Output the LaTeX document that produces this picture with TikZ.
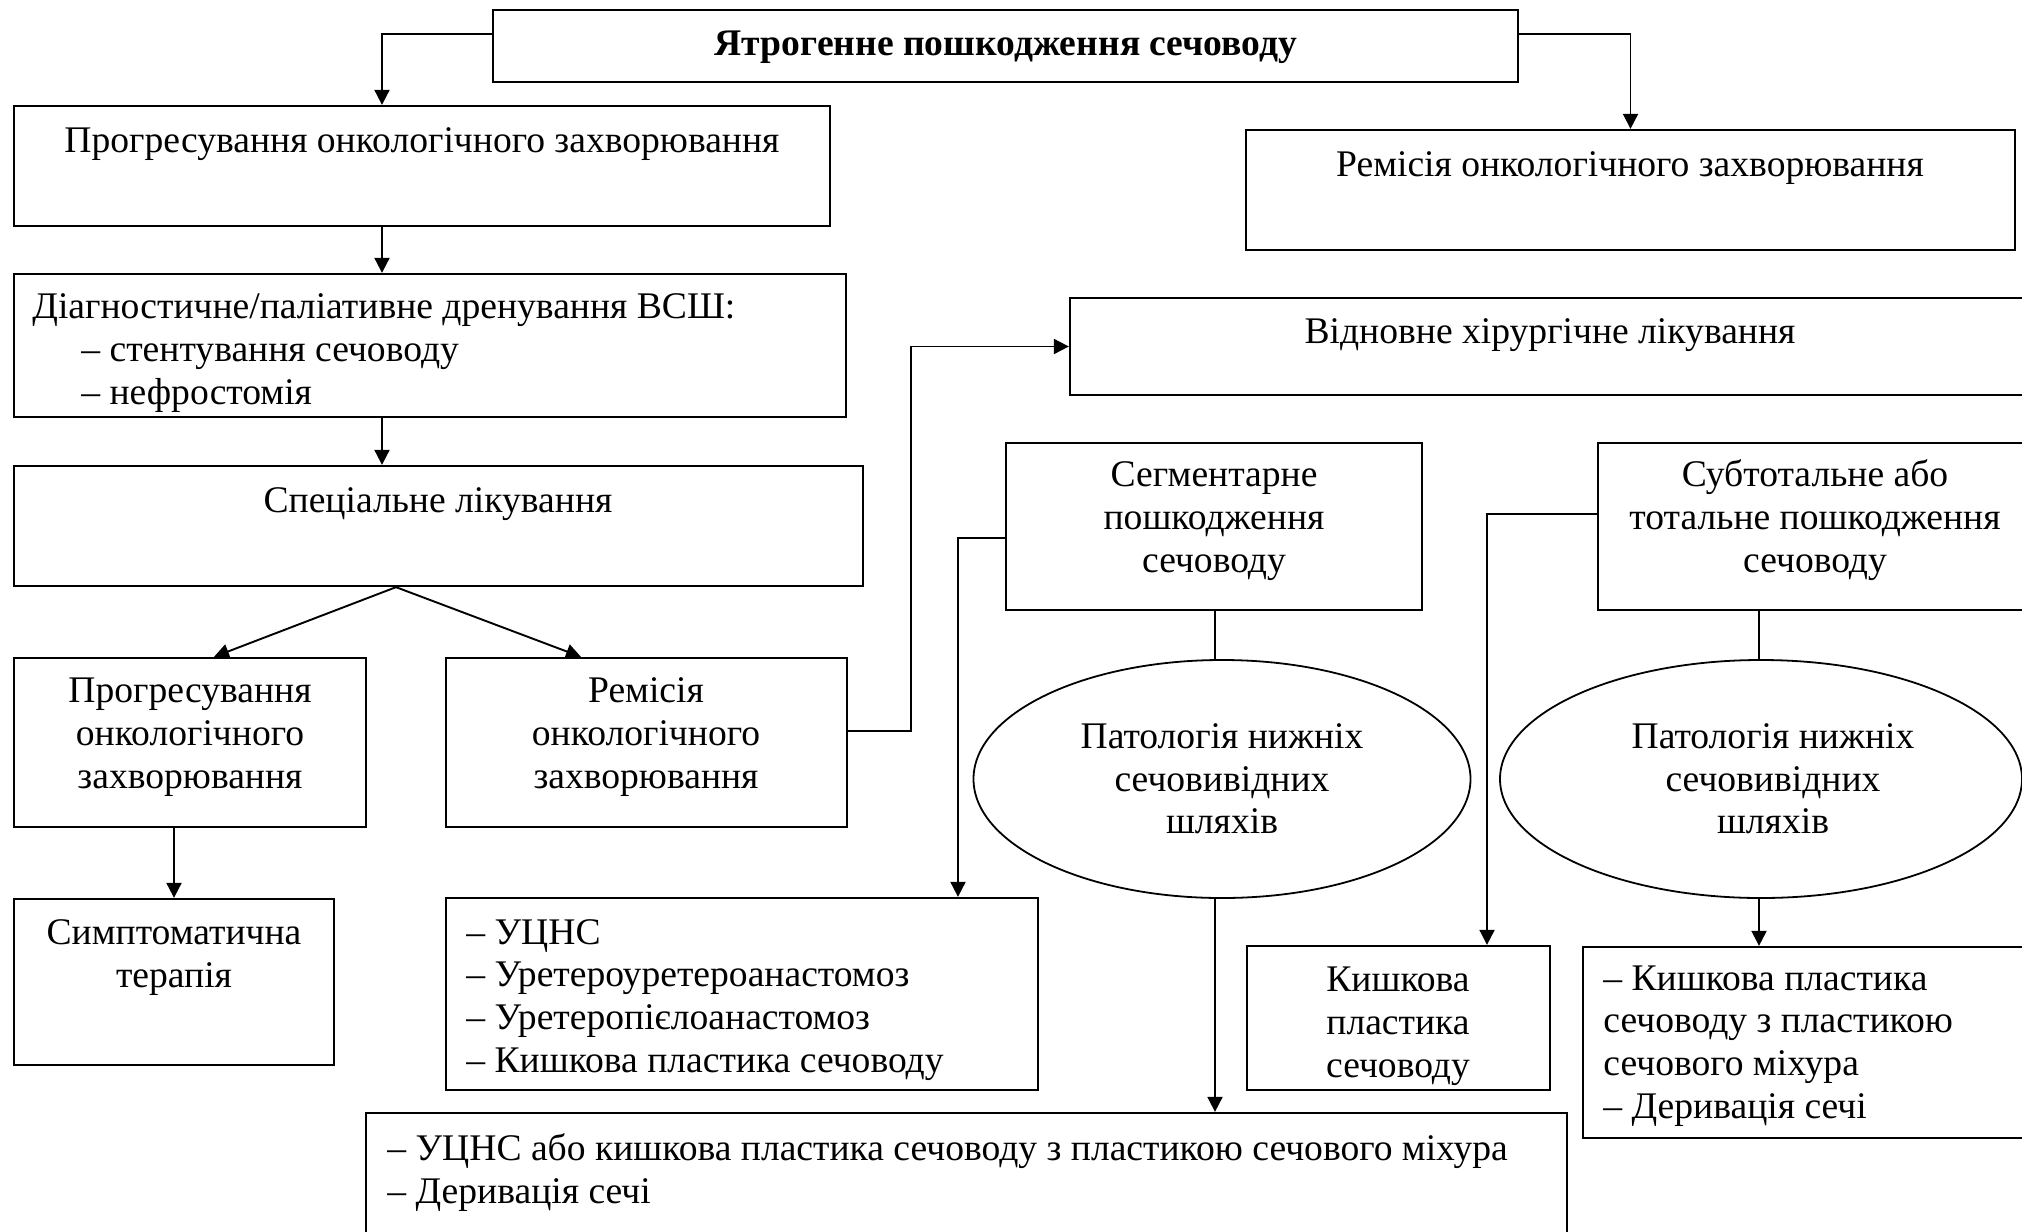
\documentclass[tikz,border=0pt]{standalone}
\usepackage{fontspec}
\setmainfont{Liberation Serif}
\usetikzlibrary{arrows.meta,fit,shapes.geometric}
\begin{document}
\begin{tikzpicture}[x=0.5pt,y=-0.5pt,
  font=\fontsize{18.8pt}{21.3pt}\selectfont,
  bx/.style={draw,line width=1.15pt,inner sep=0pt,rectangle},
  ell/.style={draw,line width=0.9pt,ellipse,inner sep=0pt,align=center},
  txt/.style={inner sep=0pt,anchor=base,align=center},
  ltxt/.style={inner sep=0pt,anchor=base west,align=left},
  conn/.style={line width=0.95pt},
  arr/.style={line width=0.95pt,-{Triangle[length=7.5pt,width=7.5pt]}}]
\useasboundingbox (0,0) rectangle (2022,1231);
\clip (0,0) rectangle (2022,1231);
% boxes
\node[bx,fit={(493,10)(1518,82)}] (top) {};
\node[bx,fit={(14,106)(830,226)}] (b1) {};
\node[bx,fit={(1246,130)(2015,250)}] (rem) {};
\node[bx,fit={(14,274)(846,417)}] (diag) {};
\node[bx,fit={(1070,298)(2040,395)}] (vidn) {};
\node[bx,fit={(14,466)(863,586)}] (spec) {};
\node[bx,fit={(1006,443)(1422,610)}] (seg) {};
\node[bx,fit={(1598,443)(2040,610)}] (sub) {};
\node[bx,fit={(14,658)(366,827)}] (prog2) {};
\node[bx,fit={(446,658)(847,827)}] (rem2) {};
\node[bx,fit={(14,899)(334,1065)}] (sym) {};
\node[bx,fit={(446,898)(1038,1090)}] (uc) {};
\node[bx,fit={(1247,946)(1550,1090)}] (kish) {};
\node[bx,fit={(1583,947)(2040,1138)}] (fin) {};
\node[bx,fit={(366,1113)(1567,1250)}] (bot) {};
% ellipses
\node[ell,minimum width=248.5pt,minimum height=119pt] (ell1) at (1222,779)
  {Патологія нижніх\\сечовивідних\\шляхів};
\node[ell,minimum width=261pt,minimum height=119pt] (ell2) at (1761,779)
  {\hspace*{12pt}Патологія нижніх\\\hspace*{12pt}сечовивідних\\\hspace*{12pt}шляхів};
% texts (multi-line nodes: base = last line's baseline)
\node[txt,font=\fontsize{18.8pt}{21.3pt}\selectfont\bfseries] (ttop) at (1006,55) {Ятрогенне пошкодження сечоводу};
\node[txt] (tb1) at (422,152) {Прогресування онкологічного захворювання};
\node[txt] (trem) at (1630,176) {Ремісія онкологічного захворювання};
\node[ltxt] (tdiag) at (32,404) {Діагностичне/паліативне дренування ВСШ:\\\hspace*{24.5pt}– стентування сечоводу\\\hspace*{24.5pt}– нефростомія};
\node[txt] (tvidn) at (1550,343) {Відновне хірургічне лікування};
\node[txt] (tspec) at (438,512) {Спеціальне лікування};
\node[txt] (tseg) at (1214,572) {Сегментарне\\пошкодження\\сечоводу};
\node[txt] (tsub) at (1815,572) {Субтотальне або\\тотальне пошкодження\\сечоводу};
\node[txt] (tprog2) at (190,788) {Прогресування\\онкологічного\\захворювання};
\node[txt] (trem2) at (646,788) {Ремісія\\онкологічного\\захворювання};
\node[txt] (tsym) at (174,987) {Симптоматична\\терапія};
\node[ltxt] (tuc) at (466,1072) {– УЦНС\\– Уретероуретероанастомоз\\– Уретеропієлоанастомоз\\– Кишкова пластика сечоводу};
\node[txt] (tkish) at (1398,1077) {Кишкова\\пластика\\сечоводу};
\node[ltxt] (tfin) at (1603,1118) {– Кишкова пластика\\сечоводу з пластикою\\сечового міхура\\– Деривація сечі};
\node[ltxt] (tbot) at (387,1203) {– УЦНС або кишкова пластика сечоводу з пластикою сечового міхура\\– Деривація сечі};
% helper coordinates
\coordinate (h34) at (0,34);
\coordinate (xa) at (382,0);
\coordinate (xd) at (396,0);
\coordinate (xp) at (214,0);
\coordinate (xr) at (581,0);
\coordinate (h731) at (0,731);
\coordinate (x911) at (911,0);
\coordinate (h538) at (0,538);
\coordinate (x958) at (958,0);
\coordinate (h514) at (0,514);
\coordinate (x1487) at (1487,0);
\coordinate (x1215) at (1215,0);
\coordinate (x1759) at (1759,0);
% connectors
\draw[arr] (top.west |- h34) -| (b1.north -| xa);
\draw[arr] (top.east |- h34) -| (rem.north);
\draw[arr] (b1.south -| xa) -- (diag.north -| xa);
\draw[arr] (diag.south -| xa) -- (spec.north -| xa);
\draw[arr] (spec.south -| xd) -- (prog2.north -| xp);
\draw[arr] (spec.south -| xd) -- (rem2.north -| xr);
\draw[arr] (prog2.south -| sym.north) -- (sym.north);
\draw[arr] (rem2.east |- h731) -| (vidn.west -| x911) -- (vidn.west);
\draw[arr] (seg.west |- h538) -| (uc.north -| x958);
\draw[conn] (seg.south -| x1215) -- (ell1.north -| x1215);
\draw[arr] (ell1.south -| x1215) -- (bot.north -| x1215);
\draw[arr] (sub.west |- h514) -| (kish.north -| x1487);
\draw[conn] (sub.south -| x1759) -- (ell2.north -| x1759);
\draw[arr] (ell2.south -| x1759) -- (fin.north -| x1759);
\end{tikzpicture}
\end{document}
